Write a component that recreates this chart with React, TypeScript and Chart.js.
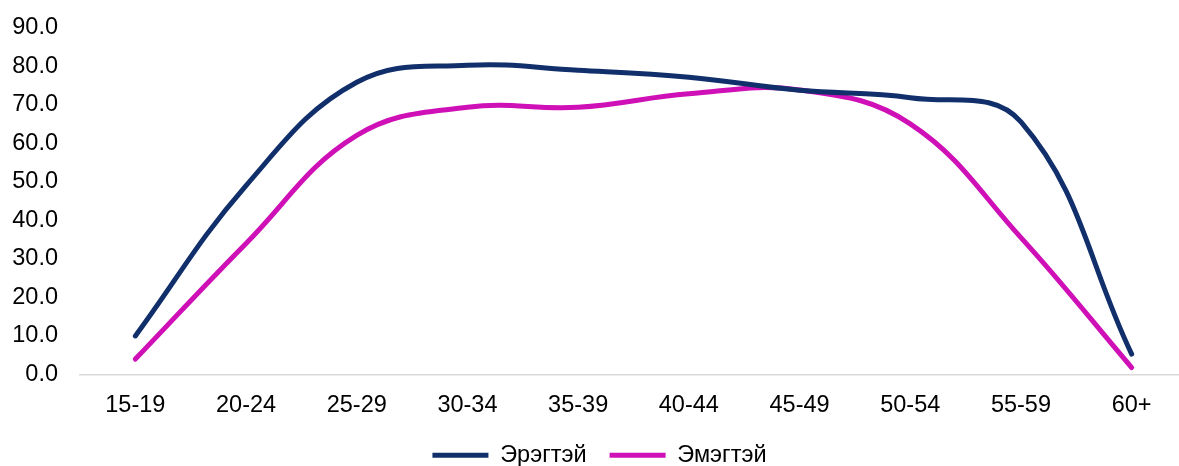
import React, { useEffect, useRef } from "react";
import { Chart, registerables } from "chart.js";

Chart.register(...registerables);

const categories = ["15-19", "20-24", "25-29", "30-34", "35-39", "40-44", "45-49", "50-54", "55-59", "60+"];
const maleLabel = "Эрэгтэй";
const femaleLabel = "Эмэгтэй";
const maleValues = [10.0, 49.0, 75.8, 80.2, 78.9, 77.1, 73.7, 71.8, 65.5, 5.3];
const femaleValues = [4.0, 34.0, 62.0, 69.3, 69.3, 72.8, 73.8, 65.0, 35.5, 1.8];
const yTicks = [0, 10, 20, 30, 40, 50, 60, 70, 80, 90];

const NAVY = "#11306B";
const MAGENTA = "#CE10B6";
const FONT = "'Liberation Sans', Arial, sans-serif";
const FS = 23.5;

export default function App() {
  const ref = useRef<HTMLCanvasElement | null>(null);

  useEffect(() => {
    document.body.style.margin = "0";
    document.body.style.overflow = "hidden";
    const canvas = ref.current;
    if (!canvas) return;
    const chart = new Chart(canvas, {
      type: "line",
      data: {
        labels: categories,
        datasets: [
          {
            label: maleLabel,
            data: maleValues,
            borderColor: NAVY,
            backgroundColor: NAVY,
            borderWidth: 5,
            borderCapStyle: "round",
            pointRadius: 0,
            tension: 0.4,
            fill: false,
          },
          {
            label: femaleLabel,
            data: femaleValues,
            borderColor: MAGENTA,
            backgroundColor: MAGENTA,
            borderWidth: 5,
            borderCapStyle: "round",
            pointRadius: 0,
            tension: 0.4,
            fill: false,
          },
        ],
      },
      options: {
        responsive: false,
        animation: false,
        maintainAspectRatio: false,
        layout: { padding: { left: 12, top: 0, right: 0, bottom: 0 } },
        plugins: {
          tooltip: { enabled: false },
          legend: {
            position: "bottom",
            labels: {
              usePointStyle: true,
              pointStyle: "line",
              pointStyleWidth: 56,
              boxWidth: 56,
              boxHeight: 5,
              padding: 23,
              color: "#000",
              font: { family: FONT, size: FS },
            },
          },
        },
        scales: {
          x: {
            offset: true,
            grid: { display: false, drawTicks: false },
            border: { display: true, color: "#d9d9d9", width: 1.5 },
            afterFit: (axis: any) => {
              axis.height = 46;
            },
            ticks: {
              color: "#000",
              font: { family: FONT, size: FS },
              padding: 17,
              maxRotation: 0,
              autoSkip: false,
            },
          },
          y: {
            min: 0,
            max: 90,
            afterBuildTicks: (axis: any) => {
              axis.ticks = yTicks.map((v) => ({ value: v }));
            },
            afterFit: (axis: any) => {
              axis.width = 68;
              axis.paddingTop = 27.5;
              axis.paddingBottom = 0;
            },
            grid: { display: false, drawTicks: false },
            border: { display: false },
            ticks: {
              color: "#000",
              font: { family: FONT, size: FS },
              padding: 22,
              callback: (v: any) => Number(v).toFixed(1),
            },
          },
        },
      },
    });
    return () => chart.destroy();
  }, []);

  return (
    <div style={{ width: 1179, height: 466, overflow: "hidden", position: "relative", background: "#fff" }}>
      <canvas ref={ref} width={1187} height={477} style={{ display: "block", width: 1187, height: 477 }} />
    </div>
  );
}
